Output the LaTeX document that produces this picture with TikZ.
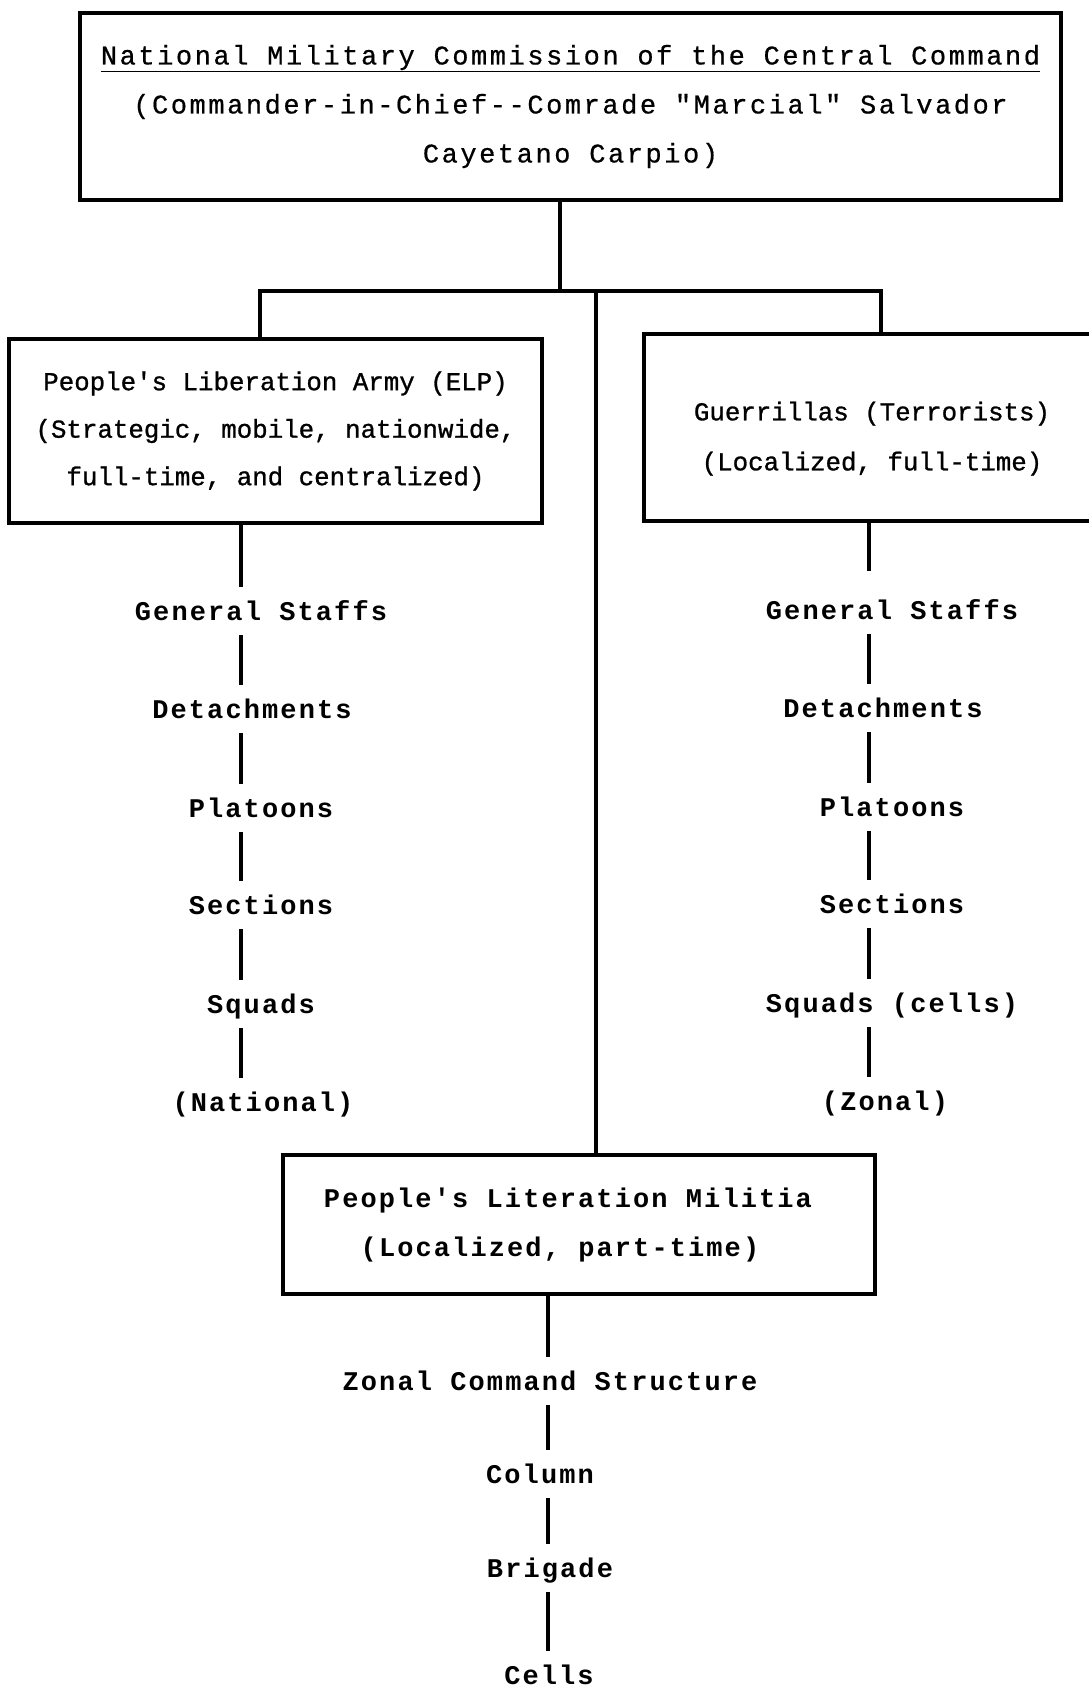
\documentclass[tikz,border=0pt]{standalone}
\usepackage{fontspec}
\newfontfamily\typefont[Ligatures=TeXOff,LetterSpace=7.8]{Liberation Mono}
\newfontfamily\topfont[Ligatures=TeXOff,LetterSpace=9.5,FakeBold=0.6]{Liberation Mono}
\newfontfamily\elitefont[Ligatures=TeXOff,FakeBold=1]{Liberation Mono}
\begin{document}
\begin{tikzpicture}[x=1pt, y=-1pt]
    \tikzstyle{box}=[draw, line width=4pt, align=center, inner sep=0pt]
    \tikzstyle{tierlabel}=[font=\typefont\bfseries\fontsize{27}{27}\selectfont, text height=18pt, text depth=0pt, inner xsep=0pt, inner ysep=15pt]
    \tikzstyle{link}=[line width=3.5pt]
    \useasboundingbox (0,0) rectangle (1089,1689);
    \fill[white] (0,0) rectangle (1089,1689);
    \clip (0,0) rectangle (1089,1689);

    \node[box, minimum width=981pt, minimum height=187pt, font=\topfont\fontsize{27}{49}\selectfont] (nmc) at (570.5,106.5)
        {\underline{National Military Commission of the Central Command}\\(Commander-in-Chief--Comrade "Marcial" Salvador\\Cayetano Carpio)};
    \node[box, minimum width=533pt, minimum height=184pt, font=\elitefont\fontsize{25.8}{47.5}\selectfont] (elp) at (275.5,431)
        {People's Liberation Army (ELP)\\(Strategic, mobile, nationwide,\\full-time, and centralized)};
    \node[box, minimum width=456pt, minimum height=187pt, font=\elitefont\fontsize{25.8}{50}\selectfont] (grl) at (872,427.5)
        {\rule{0pt}{41pt}Guerrillas (Terrorists)\\(Localized, full-time)};
    \node[box, minimum width=592pt, minimum height=139pt, font=\typefont\bfseries\fontsize{27}{49}\selectfont] (plm) at (579,1224.5)
        {People's Literation Militia\rule{22pt}{0pt}\\(Localized, part-time)\rule{38pt}{0pt}};

    \node[tierlabel] (lgs)  at (261,611)  {General Staffs};
    \node[tierlabel] (ldet) at (252,709)  {Detachments};
    \node[tierlabel] (lpla) at (261,808)  {Platoons};
    \node[tierlabel] (lsec) at (261,905)  {Sections};
    \node[tierlabel] (lsqu) at (261,1004) {Squads};
    \node[tierlabel] (lnat) at (263,1102) {(National)};

    \node[tierlabel] (rgs)  at (892,610)  {General Staffs};
    \node[tierlabel] (rdet) at (883,708)  {Detachments};
    \node[tierlabel] (rpla) at (892,807)  {Platoons};
    \node[tierlabel] (rsec) at (892,904)  {Sections};
    \node[tierlabel] (rsqu) at (892,1003) {Squads (cells)};
    \node[tierlabel] (rzon) at (885,1101) {(Zonal)};

    \node[tierlabel] (zcs) at (550,1381) {Zonal Command Structure};
    \node[tierlabel] (col) at (540,1474) {Column};
    \node[tierlabel] (bri) at (550,1568) {Brigade};
    \node[tierlabel] (cel) at (549,1675) {Cells};

    \coordinate (hub)  at (560,291);
    \coordinate (barL) at (260,291);
    \coordinate (barC) at (596,291);
    \coordinate (barR) at (881,291);
    \coordinate (lcol) at (241,0);
    \coordinate (rcol) at (869,0);
    \coordinate (mcol) at (548,0);

    \draw[link] (nmc.south -| hub) -- (hub);
    \draw[link] (barL |- elp.north) -- (barL) -- (barR) -- (barR |- grl.north);
    \draw[link] (barC) -- (barC |- plm.north);

    \draw[link] (elp.south -| lcol) -- (lgs.north -| lcol);
    \draw[link, shorten >=15pt] (grl.south -| rcol) -- (rgs.north -| rcol);
    \draw[link] (plm.south -| mcol) -- (zcs.north -| mcol);
    \foreach \a/\b in {lgs/ldet, ldet/lpla, lpla/lsec, lsec/lsqu, lsqu/lnat}
        \draw[link] (\a.south -| lcol) -- (\b.north -| lcol);
    \foreach \a/\b in {rgs/rdet, rdet/rpla, rpla/rsec, rsec/rsqu, rsqu/rzon}
        \draw[link] (\a.south -| rcol) -- (\b.north -| rcol);
    \foreach \a/\b in {zcs/col, col/bri, bri/cel}
        \draw[link] (\a.south -| mcol) -- (\b.north -| mcol);
\end{tikzpicture}
\end{document}
